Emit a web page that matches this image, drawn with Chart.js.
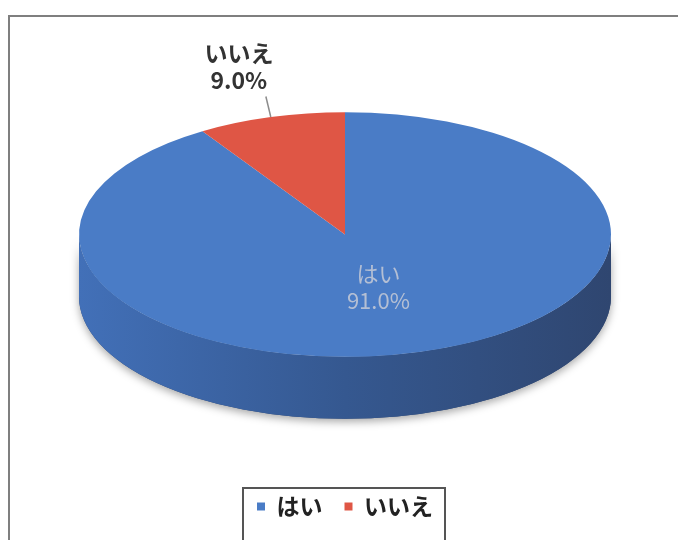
<!DOCTYPE html>
<html>
<head>
<meta charset="utf-8">
<script src="https://cdn.jsdelivr.net/npm/chart.js@4"></script>
<style>
html, body { margin: 0; padding: 0; background: #fff; }
</style>
</head>
<body>
<canvas id="myChart" width="678" height="540"></canvas>
<script>
// 回答の割合
const categories = ['はい', 'いいえ'];
const shares = [91.0, 9.0];

const faceColors = ['#4a7cc6', '#df5645'];
const sideShades = [['#4270b8', '#355890', '#2f4670'], ['#b0402f', '#9a3526', '#7d2a1e']];

const jpFont = '"Noto Sans CJK JP", "Noto Sans", sans-serif';
Chart.defaults.font.family = jpFont;

// 3D風の円グラフ: 縦につぶして側面を付ける
const pie3d = {
	id: 'pie3d',
	beforeDraw(chart) {
		const ctx = chart.ctx;
		ctx.save();
		ctx.strokeStyle = '#7f7f7f';
		ctx.lineWidth = 2;
		ctx.beginPath();
		ctx.moveTo(9, 540);
		ctx.lineTo(9, 16);
		ctx.lineTo(678, 16);
		ctx.stroke();
		ctx.restore();
	},
	beforeDatasetsDraw(chart, args, opts) {
		const ctx = chart.ctx;
		const meta = chart.getDatasetMeta(0);
		const el = meta.data[0];
		const cx = el.x, cy = el.y, R = el.outerRadius;
		const k = opts.tilt, top = cy + opts.shift, d = opts.depth;

		// 影
		ctx.save();
		ctx.shadowColor = 'rgba(0,0,0,0.35)';
		ctx.shadowBlur = 8;
		ctx.shadowOffsetY = 3;
		ctx.fillStyle = '#2f4670';
		ctx.beginPath();
		ctx.ellipse(cx, top + d, R, R * k, 0, 0, Math.PI);
		ctx.ellipse(cx, top, R, R * k, 0, Math.PI, 0, true);
		ctx.closePath();
		ctx.fill();
		ctx.restore();

		meta.data.forEach((arc, i) => {
			[0, 2 * Math.PI, -2 * Math.PI].forEach(off => {
				const a = Math.max(arc.startAngle, off);
				const b = Math.min(arc.endAngle, off + Math.PI);
				if (b <= a) return;
				const g = ctx.createLinearGradient(cx - R, 0, cx + R, 0);
				g.addColorStop(0, sideShades[i][0]);
				g.addColorStop(0.5, sideShades[i][1]);
				g.addColorStop(1, sideShades[i][2]);
				ctx.fillStyle = g;
				ctx.beginPath();
				ctx.ellipse(cx, top, R, R * k, 0, a - off, b - off);
				ctx.ellipse(cx, top + d, R, R * k, 0, b - off, a - off, true);
				ctx.closePath();
				ctx.fill();
			});
		});

		ctx.save();
		ctx.translate(cx, top);
		ctx.scale(1, k);
		ctx.translate(-cx, -cy);
	},
	afterDatasetsDraw(chart, args, opts) {
		const ctx = chart.ctx;
		ctx.restore();
		const meta = chart.getDatasetMeta(0);
		const k = opts.tilt;
		meta.data.forEach((arc, i) => {
			const mid = (arc.startAngle + arc.endAngle) / 2;
			const outside = shares[i] < 15;
			const f = outside ? 1.43 : 0.45;
			const R = arc.outerRadius;
			const top = arc.y + opts.shift;
			const lx = arc.x + Math.cos(mid) * R * f;
			const ly = top + Math.sin(mid) * R * k * f;
			ctx.save();
			if (outside) {
				ctx.strokeStyle = '#8c8c8c';
				ctx.lineWidth = 1.5;
				ctx.beginPath();
				ctx.moveTo(arc.x + Math.cos(mid) * R, top + Math.sin(mid) * R * k);
				ctx.lineTo(lx + 27, ly + 30);
				ctx.stroke();
				ctx.fillStyle = '#333333';
				ctx.font = 'bold 23px ' + jpFont;
			} else {
				ctx.fillStyle = '#b4bfd4';
				ctx.font = '22px ' + jpFont;
			}
			ctx.textAlign = 'center';
			ctx.textBaseline = 'middle';
			ctx.fillText(categories[i], lx, ly - 13.5);
			ctx.fillText(shares[i].toFixed(1) + '%', lx, ly + 13.5);
			ctx.restore();
		});
	},
	afterDraw(chart) {
		const boxes = chart.legend.legendHitBoxes;
		if (!boxes || !boxes.length) return;
		const ctx = chart.ctx;
		const left = Math.min(...boxes.map(b => b.left)) - 14;
		const right = Math.max(...boxes.map(b => b.left + b.width)) + 12;
		const topY = Math.min(...boxes.map(b => b.top)) - 7;
		ctx.save();
		ctx.strokeStyle = '#555555';
		ctx.lineWidth = 2;
		ctx.strokeRect(left, topY, right - left, 560 - topY);
		ctx.restore();
	}
};

const ctx = document.getElementById('myChart');
new Chart(ctx, {
	type: 'pie',
	data: {
		labels: categories,
		datasets: [{
			data: shares,
			backgroundColor: faceColors,
			borderWidth: 0,
			radius: 266,
			clip: false
		}]
	},
	options: {
		responsive: false,
		animation: false,
		events: [],
		layout: { padding: { top: 0, bottom: 12, left: 12, right: 0 } },
		plugins: {
			tooltip: { enabled: false },
			legend: {
				position: 'bottom',
				labels: {
					boxWidth: 8,
					boxHeight: 8,
					padding: 22,
					color: '#222222',
					font: { size: 23, weight: 'bold' }
				}
			},
			pie3d: { tilt: 0.46, depth: 62, shift: -2 }
		}
	},
	plugins: [pie3d]
});
</script>
</body>
</html>
